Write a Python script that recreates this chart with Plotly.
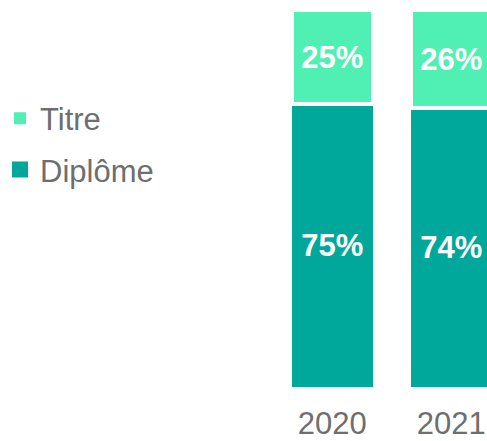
import plotly.graph_objects as go

years = ["2020", "2021"]
diplome = [75, 74]
titre = [25, 26]

c_titre = "#50F0B4"
c_diplome = "#00A79B"
grey = "#6E6E6E"
font_family = "Liberation Sans, Arial, sans-serif"

fig = go.Figure()

# stacked segments
fig.add_trace(go.Bar(
    x=years, y=diplome, name="Diplôme", showlegend=False,
    marker=dict(color=c_diplome, line=dict(width=0)),
    texttemplate="%{y}%", textposition="inside", insidetextanchor="middle",
    textangle=0,
    textfont=dict(family=font_family, size=31, color="white", weight="bold"),
))
fig.add_trace(go.Bar(
    x=years, y=titre, name="Titre", showlegend=False,
    marker=dict(color=c_titre, line=dict(width=4, color="white")),
    texttemplate="%{y}%", textposition="inside", insidetextanchor="middle",
    textangle=0,
    textfont=dict(family=font_family, size=31, color="white", weight="bold"),
))

# legend entries with square swatches
fig.add_trace(go.Scatter(
    x=[None], y=[None], mode="markers", name="Titre", legendgroup="t",
    marker=dict(symbol="square", size=12, color=c_titre),
))
fig.add_trace(go.Scatter(
    x=[None], y=[None], mode="markers", name="Diplôme", legendgroup="d",
    marker=dict(symbol="square", size=16, color=c_diplome),
))

fig.update_layout(
    width=487, height=441,
    margin=dict(l=0, r=0, t=10, b=52),
    paper_bgcolor="white", plot_bgcolor="white",
    barmode="stack", bargap=0.32,
    font=dict(family=font_family, color=grey),
    legend=dict(
        x=0, xanchor="left", y=1 - (92 - 10) / 379, yanchor="top",
        font=dict(size=31, color=grey), traceorder="grouped",
        tracegroupgap=8, bgcolor="rgba(0,0,0,0)", itemsizing="trace",
    ),
    xaxis=dict(
        type="category", range=[-2.79, 1.30],
        showgrid=False, zeroline=False, showline=False, ticks="",
        tickfont=dict(size=31, color=grey), ticklabelstandoff=15,
    ),
    yaxis=dict(range=[0, 100], visible=False),
)

fig.write_html("out.html")
